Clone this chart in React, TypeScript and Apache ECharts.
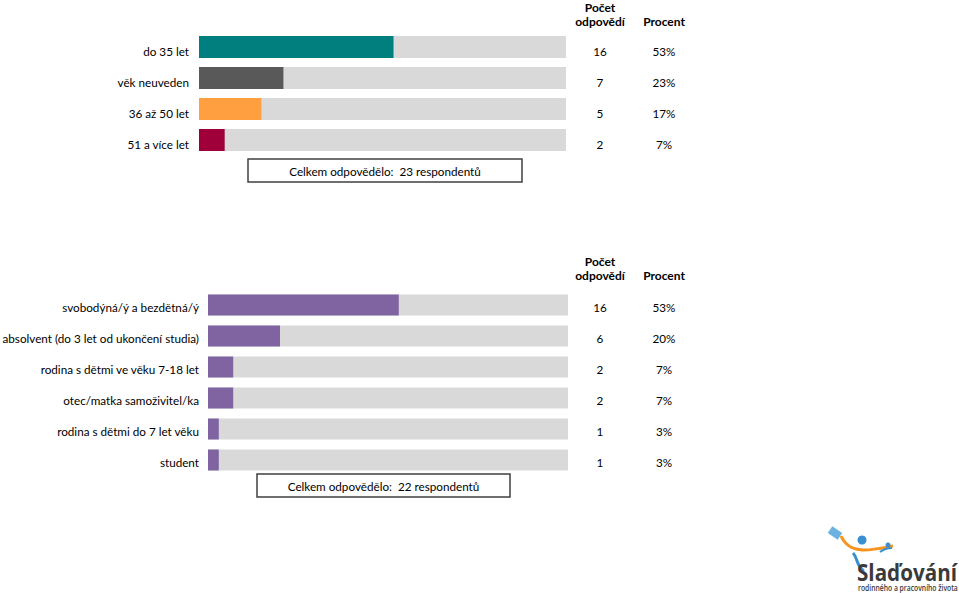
import React, { useEffect, useRef } from "react";
import * as echarts from "echarts";

const ageCategories = ["do 35 let", "věk neuveden", "36 až 50 let", "51 a více let"];
const ageCounts = [16, 7, 5, 2];
const agePercent = [53, 23, 17, 7];
const ageColors = ["#007F7F", "#595959", "#FF9F3F", "#A0003A"];
const ageTotal = 23;

const groupCategories = [
  "svobodýná/ý a bezdětná/ý",
  "absolvent (do 3 let od ukončení studia)",
  "rodina s dětmi ve věku 7-18 let",
  "otec/matka samoživitel/ka",
  "rodina s dětmi do 7 let věku",
  "student",
];
const groupCounts = [16, 6, 2, 2, 1, 1];
const groupPercent = [53, 20, 7, 7, 3, 3];
const groupColor = "#8064A2";
const groupTotal = 22;

const headerCount = ["Počet", "odpovědí"];
const headerPercent = "Procent";

const FONT = "Lato, 'Open Sans', sans-serif";

export default function App() {
  const ref = useRef<HTMLDivElement>(null);
  useEffect(() => {
    document.body.style.margin = "0";
    if (!ref.current) return;
    const chart = echarts.init(ref.current, null, { renderer: "svg" });
    const labelBase = { fontFamily: FONT, fontSize: 11.7, color: "#000" };

    const hiddenX = (gi: number) => ({ gridIndex: gi, type: "value", min: 0, max: 100, show: false });
    const catAxis = (gi: number, data: string[], margin: number) => ({
      gridIndex: gi,
      type: "category",
      inverse: true,
      data,
      axisLine: { show: false },
      axisTick: { show: false },
      splitLine: { show: false },
      axisLabel: { ...labelBase, margin },
    });
    const rightAxis = (gi: number, data: string[], margin: number) => ({
      gridIndex: gi,
      type: "category",
      inverse: true,
      position: "right",
      data,
      axisLine: { show: false },
      axisTick: { show: false },
      splitLine: { show: false },
      axisLabel: { ...labelBase, align: "center", margin },
    });
    const barAxis = (gi: number, data: string[]) => ({
      gridIndex: gi,
      type: "category",
      inverse: true,
      data,
      show: false,
    });

    const header = (y: number) => [
      { type: "text", x: 600, y: y, style: { text: headerCount[0], font: `bold 12px ${FONT}`, fill: "#000", align: "center", verticalAlign: "middle" } },
      { type: "text", x: 600, y: y + 14, style: { text: headerCount[1], font: `bold 12px ${FONT}`, fill: "#000", align: "center", verticalAlign: "middle" } },
      { type: "text", x: 664, y: y + 14, style: { text: headerPercent, font: `bold 12px ${FONT}`, fill: "#000", align: "center", verticalAlign: "middle" } },
    ];
    const box = (x: number, y: number, w: number, total: number) => [
      { type: "rect", shape: { x, y, width: w, height: 23 }, style: { fill: "#fff", stroke: "#404040", lineWidth: 1.5 } },
      { type: "text", x: x + w / 2, y: y + 12, style: { text: `Celkem odpovědělo:  ${total} respondentů`, font: `11.7px ${FONT}`, fill: "#000", align: "center", verticalAlign: "middle" } },
    ];

    const option: any = {
      animation: false,
      backgroundColor: "#fff",
      grid: [
        { left: 199, top: 31.5, width: 367, height: 124, outerBoundsMode: "none" },
        { left: 208, top: 289.5, width: 360, height: 186, outerBoundsMode: "none" },
        { left: 199, top: 35.5, width: 367, height: 124, outerBoundsMode: "none" },
        { left: 208, top: 291.5, width: 360, height: 186, outerBoundsMode: "none" },
      ],
      xAxis: [hiddenX(0), hiddenX(1), hiddenX(2), hiddenX(3)],
      yAxis: [
        barAxis(0, ageCategories),
        barAxis(1, groupCategories),
        catAxis(2, ageCategories, 10),
        rightAxis(2, ageCounts.map(String), 34),
        rightAxis(2, agePercent.map((p) => p + "%"), 98),
        catAxis(3, groupCategories, 9),
        rightAxis(3, groupCounts.map(String), 32),
        rightAxis(3, groupPercent.map((p) => p + "%"), 96),
      ],
      series: [
        {
          type: "bar",
          xAxisIndex: 0,
          yAxisIndex: 0,
          barWidth: 22,
          showBackground: true,
          backgroundStyle: { color: "#D9D9D9" },
          data: agePercent.map((v, i) => ({ value: v, itemStyle: { color: ageColors[i] } })),
        },
        {
          type: "bar",
          xAxisIndex: 1,
          yAxisIndex: 1,
          barWidth: 21,
          showBackground: true,
          backgroundStyle: { color: "#D9D9D9" },
          itemStyle: { color: groupColor },
          data: groupPercent,
        },
      ],
      graphic: [
        ...header(7),
        ...box(248, 159, 274, ageTotal),
        ...header(261),
        ...box(257, 474, 253, groupTotal),
        {
          type: "group",
          children: [
            { type: "rect", x: 835, y: 533, rotation: -0.6, shape: { x: -6, y: -4, width: 12, height: 8 }, style: { fill: "#6BB2E0" } },
            { type: "bezierCurve", shape: { x1: 841, y1: 536, x2: 893, y2: 546, cpx1: 850, cpy1: 556, cpx2: 872, cpy2: 550 }, style: { stroke: "#F7941D", lineWidth: 3, fill: "none" } },
            { type: "circle", shape: { cx: 862, cy: 540, r: 4.5 }, style: { fill: "#3A8FD0" } },
            { type: "bezierCurve", shape: { x1: 853, y1: 553, x2: 864, y2: 571, cpx1: 858, cpy1: 558, cpx2: 856, cpy2: 566 }, style: { stroke: "#3A8FD0", lineWidth: 3, fill: "none" } },
            { type: "circle", shape: { cx: 888, cy: 545, r: 2.5 }, style: { fill: "#3A8FD0" } },
            { type: "bezierCurve", shape: { x1: 880, y1: 552, x2: 892, y2: 548, cpx1: 884, cpy1: 549, cpx2: 888, cpy2: 548 }, style: { stroke: "#3A8FD0", lineWidth: 2, fill: "none" } },
            { type: "text", x: 857, y: 572, scaleX: 0.86, style: { text: "Slaďování", font: `bold 24px 'Open Sans', sans-serif`, fill: "#3A3A3A", verticalAlign: "middle" } },
            { type: "text", x: 858, y: 588, scaleX: 0.85, style: { text: "rodinného a pracovního života", font: `600 8px 'Open Sans', sans-serif`, fill: "#3A3A3A", verticalAlign: "middle" } },
          ],
        },
      ],
    };
    chart.setOption(option);
    return () => chart.dispose();
  }, []);
  return <div ref={ref} style={{ width: 959, height: 593 }} />;
}
